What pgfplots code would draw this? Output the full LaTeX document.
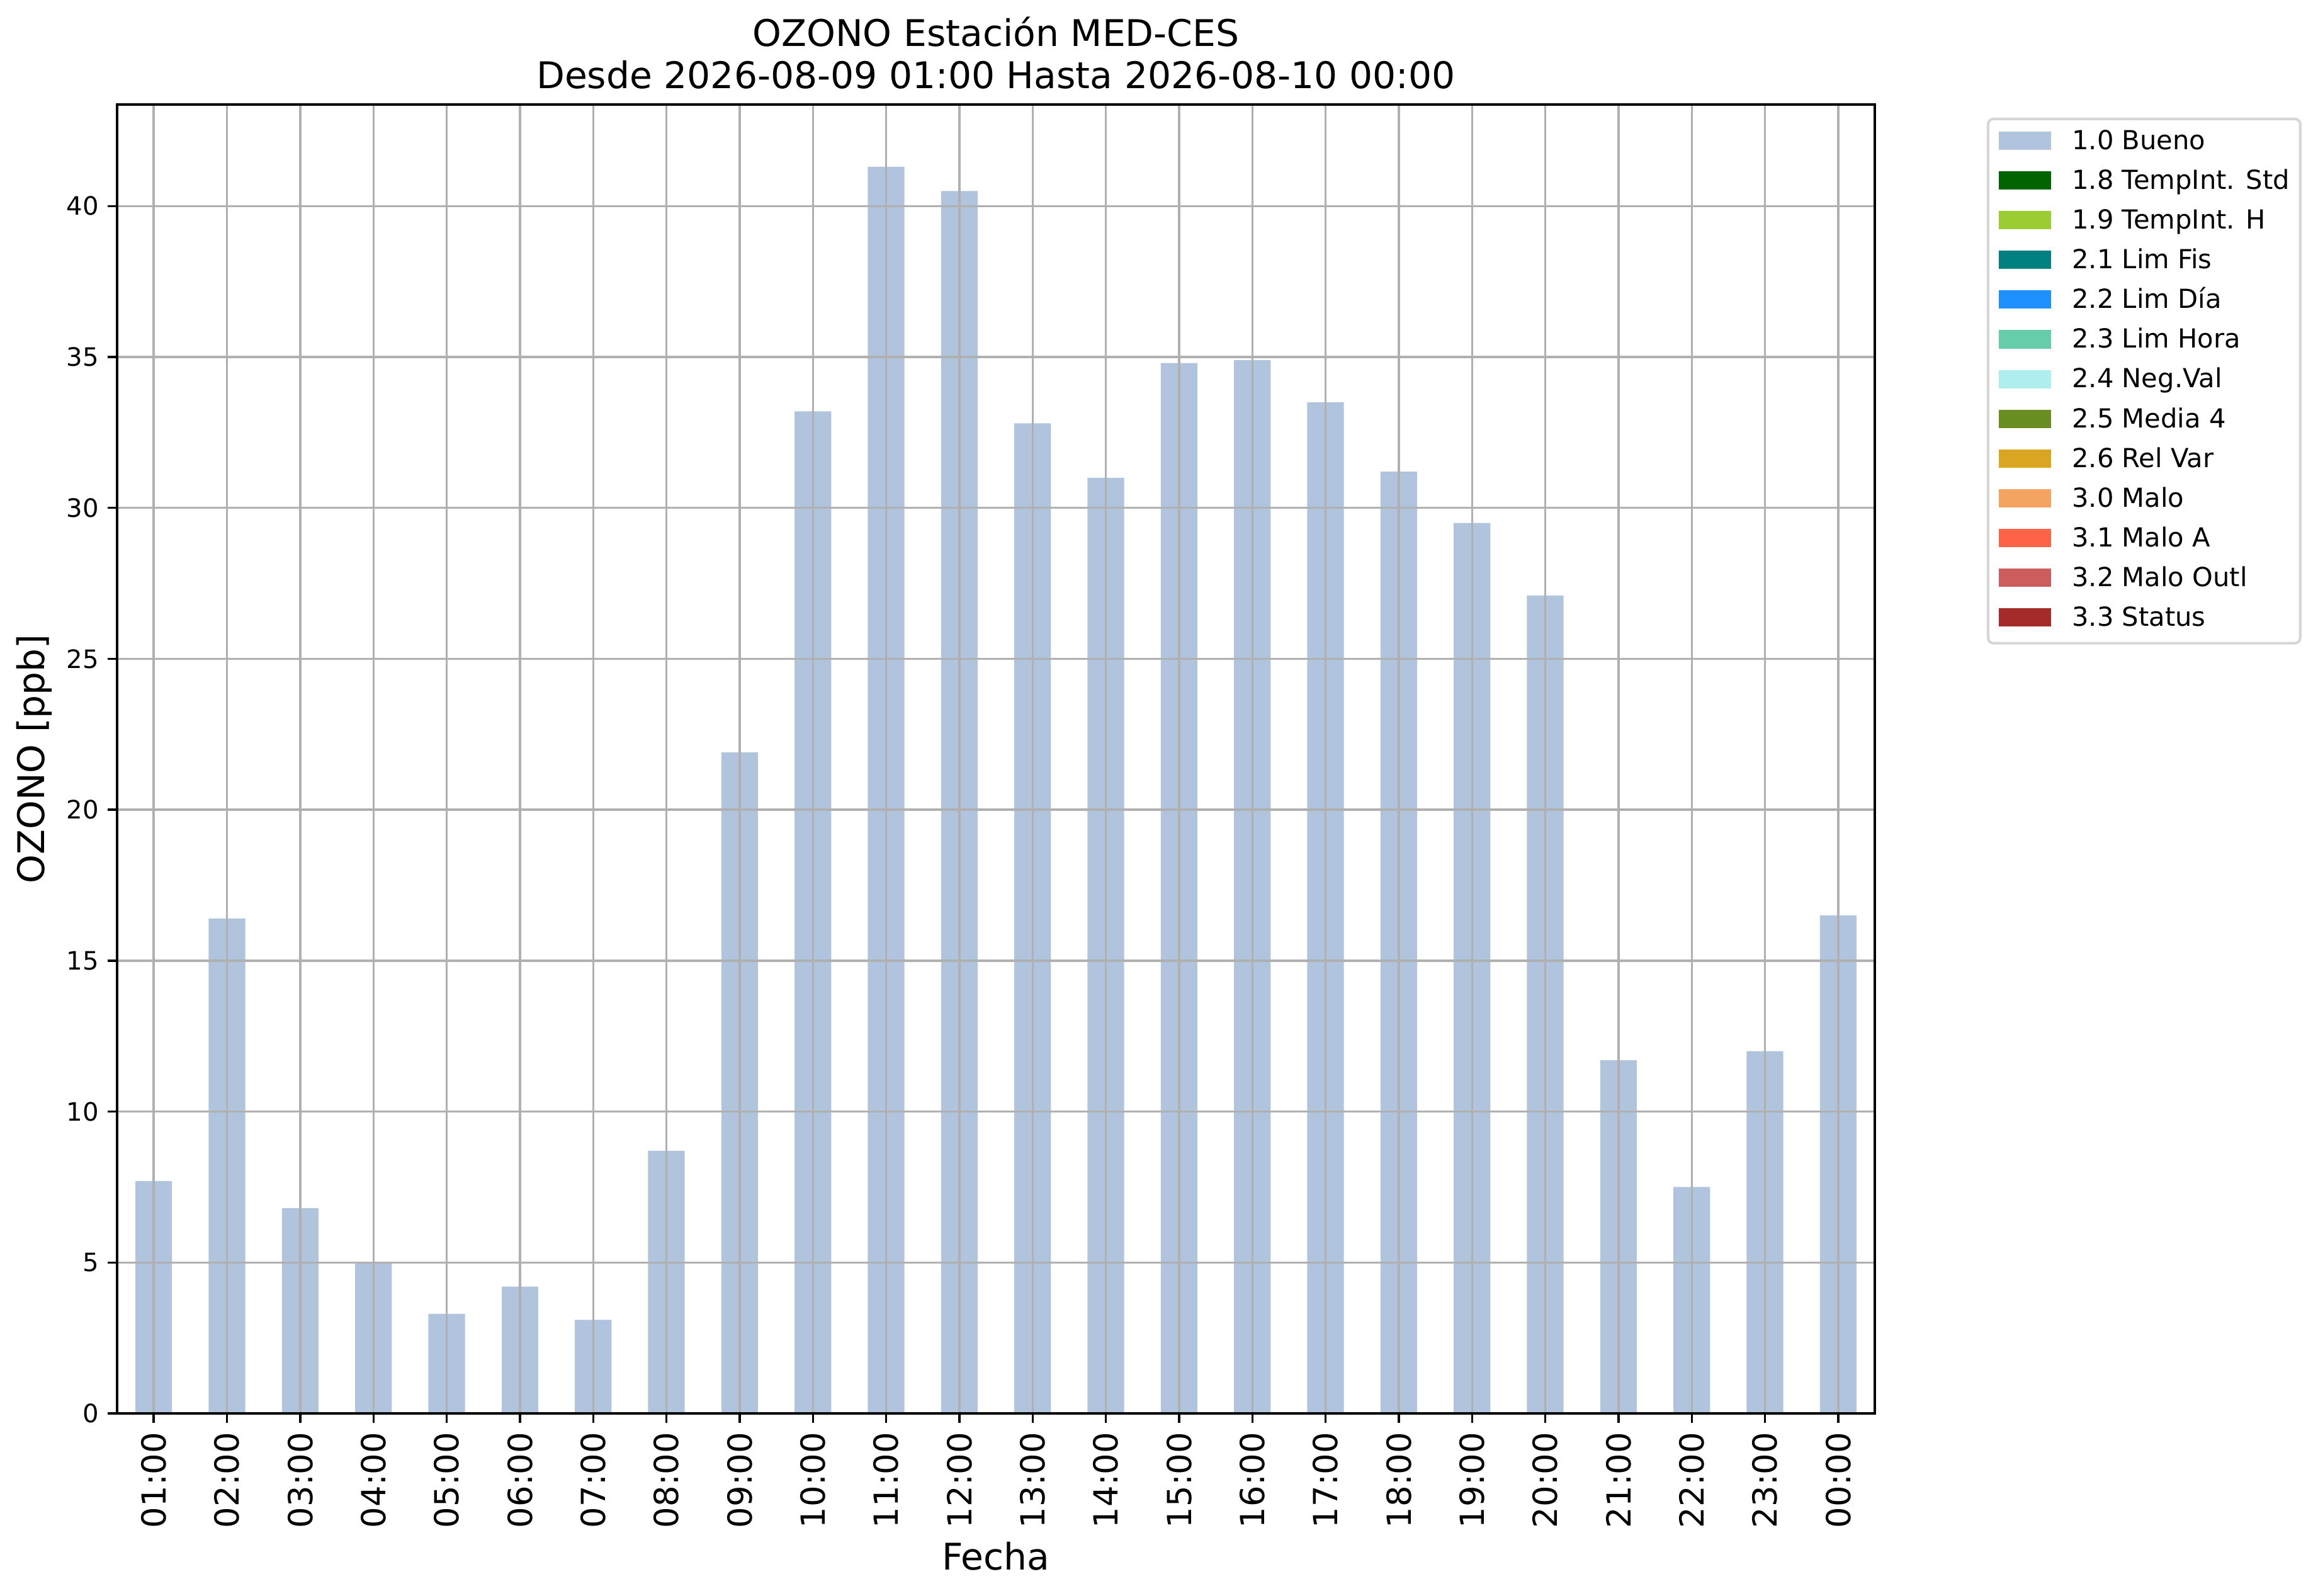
\documentclass[border=0pt]{standalone}
\usepackage{fontspec}
\setmainfont{DejaVu Sans}
\usepackage{pgfplots}
\pgfplotsset{compat=1.18}
\definecolor{c10}{HTML}{B0C4DE}
\definecolor{c18}{HTML}{006400}
\definecolor{c19}{HTML}{9ACD32}
\definecolor{c21}{HTML}{008080}
\definecolor{c22}{HTML}{1E90FF}
\definecolor{c23}{HTML}{66CDAA}
\definecolor{c24}{HTML}{AFEEEE}
\definecolor{c25}{HTML}{6B8E23}
\definecolor{c26}{HTML}{DAA520}
\definecolor{c30}{HTML}{F4A460}
\definecolor{c31}{HTML}{FF6347}
\definecolor{c32}{HTML}{CD5C5C}
\definecolor{c33}{HTML}{A52A2A}
\definecolor{gridc}{HTML}{B0B0B0}
\definecolor{legc}{HTML}{D6D6D6}
\pgfplotsset{mylegend/.style={legend image code/.code={\fill[##1, rounded corners=0pt, draw=none] (0pt,-2.75pt) rectangle (20pt,4.25pt); \path (28pt,0pt);}}}
\begin{document}
\begin{tikzpicture}
\begin{axis}[
  scale only axis,
  width=670.08pt, height=498.96pt,
  xmin=-0.5, xmax=23.5, ymin=0, ymax=43.365,
  ybar, bar width=0.5,
  axis on top,
  axis line style={black, line width=0.8pt},
  grid=major,
  major grid style={gridc, line width=0.8pt},
  tick align=outside,
  major tick length=3.5pt,
  tick style={black, line width=0.8pt},
  xtick pos=bottom, ytick pos=left,
  xtick={0,1,...,23},
  xticklabels={01:00,02:00,03:00,04:00,05:00,06:00,07:00,08:00,09:00,10:00,11:00,12:00,13:00,14:00,15:00,16:00,17:00,18:00,19:00,20:00,21:00,22:00,23:00,00:00},
  ytick={0,5,...,40},
  /pgf/number format/assume math mode=true,
  xticklabel style={font=\fontsize{12.65}{15}\selectfont, inner sep=0pt, yshift=-3.53pt, rotate=90, anchor=east},
  yticklabel style={font=\fontsize{9.65}{12}\selectfont, inner sep=0pt, xshift=-3.34pt, anchor=east},
  xlabel={Fecha},
  ylabel={OZONO [ppb]},
  xlabel style={font=\fontsize{14}{16}\selectfont, at={(axis description cs:0.5,0)}, anchor=base, inner sep=0pt, yshift=-59.52pt},
  ylabel style={font=\fontsize{14}{16}\selectfont, at={(axis description cs:0,0.5)}, anchor=south, inner sep=0pt, yshift=24.65pt},
  title={OZONO Estación MED-CES\\Desde 2026-08-09 01:00 Hasta 2026-08-10 00:00},
  title style={font=\fontsize{14}{16}\selectfont, align=center, at={(axis description cs:0.5,1)}, anchor=south, inner sep=0pt, yshift=-0.3pt},
  legend cell align=left,
  legend style={at={(axis description cs:1,1)}, anchor=north west, xshift=42.7pt, yshift=-5pt,
    draw=legc, line width=1pt, rounded corners=2pt, fill=white,
    inner xsep=4pt, inner ysep=4.28pt, row sep=5.65pt,
    font=\fontsize{10}{12}\selectfont,
    nodes={inner sep=0pt, text height=7.3pt, text depth=2.2pt}},
]
\addplot[fill=c10, draw=none, mylegend] coordinates {
 (0,7.7) (1,16.4) (2,6.8) (3,5.0) (4,3.3) (5,4.2) (6,3.1) (7,8.7)
 (8,21.9) (9,33.2) (10,41.3) (11,40.5) (12,32.8) (13,31.0) (14,34.8) (15,34.9)
 (16,33.5) (17,31.2) (18,29.5) (19,27.1) (20,11.7) (21,7.5) (22,12.0) (23,16.5)
};
\addlegendentry{1.0 Bueno}
\addlegendimage{mylegend, fill=c18, draw=none}\addlegendentry{1.8 TempInt. Std}
\addlegendimage{mylegend, fill=c19, draw=none}\addlegendentry{1.9 TempInt. H}
\addlegendimage{mylegend, fill=c21, draw=none}\addlegendentry{2.1 Lim Fis}
\addlegendimage{mylegend, fill=c22, draw=none}\addlegendentry{2.2 Lim Día}
\addlegendimage{mylegend, fill=c23, draw=none}\addlegendentry{2.3 Lim Hora}
\addlegendimage{mylegend, fill=c24, draw=none}\addlegendentry{2.4 Neg.Val}
\addlegendimage{mylegend, fill=c25, draw=none}\addlegendentry{2.5 Media 4}
\addlegendimage{mylegend, fill=c26, draw=none}\addlegendentry{2.6 Rel Var}
\addlegendimage{mylegend, fill=c30, draw=none}\addlegendentry{3.0 Malo}
\addlegendimage{mylegend, fill=c31, draw=none}\addlegendentry{3.1 Malo A}
\addlegendimage{mylegend, fill=c32, draw=none}\addlegendentry{3.2 Malo Outl}
\addlegendimage{mylegend, fill=c33, draw=none}\addlegendentry{3.3 Status}
\end{axis}
\pgfresetboundingbox
\useasboundingbox (-44.64pt,-69.36pt) rectangle (839.04pt,538.8pt);
\end{tikzpicture}
\end{document}
